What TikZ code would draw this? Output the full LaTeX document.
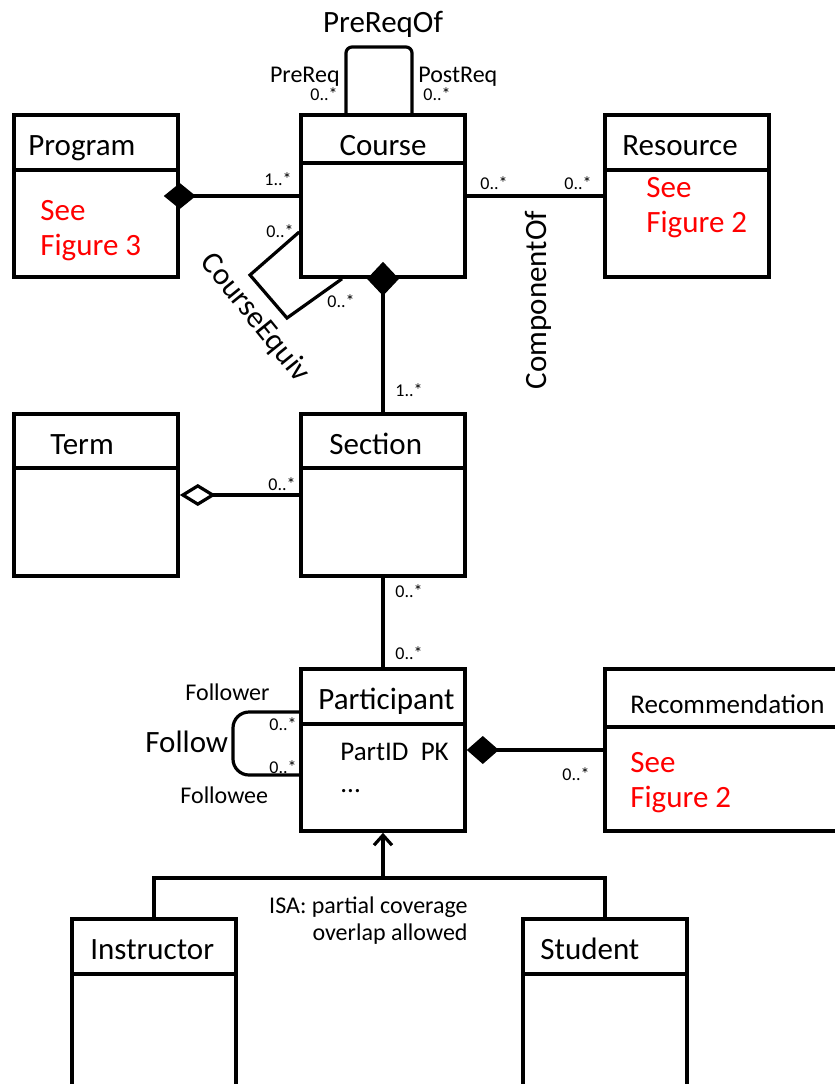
\documentclass[tikz,border=0pt]{standalone}
\usepackage{fontspec}
\setmainfont{Carlito}
\usetikzlibrary{arrows.meta,positioning}

\begin{document}
\begin{tikzpicture}[
    x=0.5pt, y=-0.5pt,
    cls/.style={draw, line width=1.8pt, minimum width=82pt, minimum height=81pt, inner sep=0pt},
    ttl/.style={font=\fontsize{15.5}{18}\selectfont, inner sep=0pt},
    body/.style={font=\fontsize{15.5}{17.5}\selectfont, text=red, align=left, inner sep=0pt},
    attr/.style={font=\fontsize{13.5}{16}\selectfont, align=left, inner sep=0pt},
    lbl/.style={font=\fontsize{12}{13.5}\selectfont, inner sep=0pt},
    mult/.style={font=\fontsize{9}{11}\selectfont, inner sep=0pt},
    assoc/.style={line width=1.6pt},
    comp/.style 2 args={assoc, {Diamond[length=#1,width=#2]}-},
    aggr/.style={assoc, {Diamond[open,fill=white,length=18pt,width=11pt]}-},
    isa/.style={assoc, -{Straight Barb[length=5pt,width=9pt]}}
]
\useasboundingbox (0,0) rectangle (835,1084);

% classes
\node[cls] (program) at (96,196) {};
\node[cls] (course) at (383,196) {};
\node[cls] (resource) at (687,196) {};
\node[cls] (term) at (96,495) {};
\node[cls] (section) at (383,495) {};
\node[cls] (participant) at (383,750) {};
\node[cls, minimum width=118pt] (recommend) at (723,750) {};
\node[cls, minimum height=90pt] (instructor) at (154,1009) {};
\node[cls, minimum height=90pt] (student) at (605,1009) {};

\foreach \c/\h in {program/170, course/163, resource/170, term/468, section/468,
                   participant/724, recommend/727, instructor/974, student/974}
  \draw[line width=1.8pt] (\c.west |- 0,\h) -- (\c.east |- 0,\h);

\node[ttl, anchor=base west] (programttl) at (28,155) {Program};
\node[ttl, anchor=base] (coursettl) at (383,155) {Course};
\node[ttl, anchor=base west] (resourcettl) at (622,155) {Resource};
\node[ttl, anchor=base west] (termttl) at (50,454) {Term};
\node[ttl, anchor=base west] (sectionttl) at (329,454) {Section};
\node[ttl, anchor=base west] (participantttl) at (318,709) {Participant};
\node[ttl, font=\fontsize{13.5}{16}\selectfont, anchor=base west] (recommendttl) at (630,713) {Recommendation};
\node[ttl, anchor=base west] (instructorttl) at (90,959) {Instructor};
\node[ttl, anchor=base west] (studentttl) at (540,959) {Student};

% base = last line
\node[body, anchor=base west] (programtxt) at (40,255) {See\\Figure 3};
\node[body, anchor=base west] (resourcetxt) at (646,232) {See\\Figure 2};
\node[body, anchor=base west] (recommendtxt) at (630,807) {See\\Figure 2};
\node[attr, anchor=base west] (participanttxt) at (340,792) {PartID\ \ PK\\...};

% Program -- Course
\draw[comp={16pt}{13pt}, shorten <=-8pt] (program.east) -- (course.west);
\node[mult, anchor=base east] (m1) at (292,185) {1..*};

% Course -- Resource
\draw[assoc] (course.east) -- (resource.west);
\node[mult, anchor=base west] (m2) at (480,189) {0..*};
\node[mult, anchor=base east] (m3) at (592,189) {0..*};
\node[ttl, rotate=90] (componentof) at (538,300) {ComponentOf};

% PreReqOf
\draw[assoc, rounded corners=3pt] (course.north -| 346,0) -- (346,47) -- (412,47) -- (course.north -| 412,0);
\node[ttl, anchor=base] (prereqof) at (383,32) {PreReqOf};
\node[lbl, anchor=base east] (prereq) at (340,82) {PreReq};
\node[mult, anchor=base east] (m4) at (338,100) {0..*};
\node[lbl, anchor=base west] (postreq) at (418,82) {PostReq};
\node[mult, anchor=base west] (m5) at (423,100) {0..*};

% CourseEquiv
\draw[assoc] (course.west |- 0,232) -- (250,275) -- (287,318) -- (course.south -| 342,0);
\node[ttl, rotate=-51] (courseequiv) at (255,318) {CourseEquiv};
\node[mult, anchor=base east] (m6) at (294,237) {0..*};
\node[mult, anchor=base west] (m7) at (327,307) {0..*};

% Course -- Section
\draw[comp={17pt}{16pt}, shorten <=-8.5pt] (course.south) -- (section.north);
\node[mult, anchor=base west] (m8) at (395,396) {1..*};

% Term -- Section
\draw[aggr] (term.east) -- (section.west);
\node[mult, anchor=base east] (m9) at (296,490) {0..*};

% Section -- Participant
\draw[assoc] (section.south) -- (participant.north);
\node[mult, anchor=base west] (m10) at (395,597) {0..*};
\node[mult, anchor=base west] (m11) at (395,659) {0..*};

% Follow
\draw[assoc, rounded corners=8pt] (participant.west |- 0,712) -- (233,712) -- (233,775) -- (participant.west |- 0,775);
\node[lbl, anchor=base west] (follower) at (185,700) {Follower};
\node[ttl, anchor=base west] (follow) at (145,752) {Follow};
\node[lbl, anchor=base west] (followee) at (180,803) {Followee};
\node[mult, anchor=base east] (m12) at (297,730) {0..*};
\node[mult, anchor=base east] (m13) at (297,773) {0..*};

% Participant -- Recommendation
\draw[comp={16pt}{14pt}] (participant.east) -- (recommend.west);
\node[mult, anchor=base east] (m14) at (590,780) {0..*};

% ISA
\coordinate (isajoin) at (383,878);
\draw[assoc] (instructor.north) |- (isajoin) -| (student.north);
\draw[isa] (isajoin) -- (participant.south);
\node[lbl, align=right, anchor=base east] (isatxt) at (468,940) {ISA: partial coverage\\overlap allowed};
\end{tikzpicture}
\end{document}
